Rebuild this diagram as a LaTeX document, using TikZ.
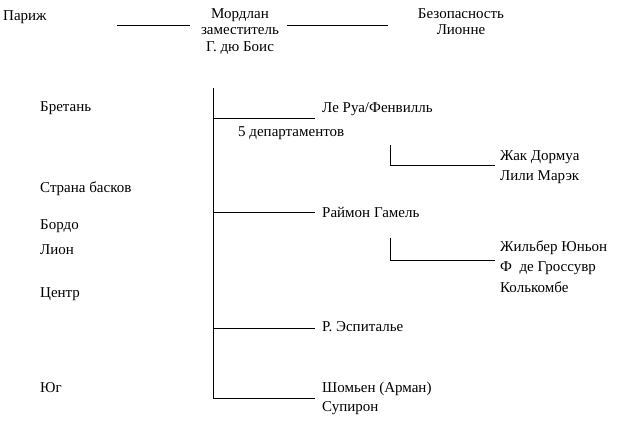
\documentclass[tikz,border=0pt]{standalone}
\usepackage{fontspec}
\setmainfont{Liberation Serif}
\begin{document}
\begin{tikzpicture}[x=1pt,y=-1pt,
  t/.style={anchor=west,inner sep=0pt,font=\fontsize{15}{17}\selectfont},
  c/.style={align=center,inner sep=0pt,font=\fontsize{15}{16.5}\selectfont},
  ln/.style={line width=0.6pt}]
\useasboundingbox (0,0) rectangle (644,429);
\node[t] (paris) at (3,17) {Париж};
\node[c,anchor=north] (mord) at (240,8) {Мордлан\\заместитель\\Г. дю Боис};
\node[c,anchor=north] (bez) at (461,8) {Безопасность\\Лионне};
\coordinate (p1) at (117,25); \coordinate (p2) at (190,25);
\coordinate (q1) at (287,25); \coordinate (q2) at (388,25);
\draw[ln] (p1)--(p2); \draw[ln] (q1)--(q2);
\node[t] (bre) at (40,108) {Бретань};
\node[t] (bas) at (40,189) {Страна басков};
\node[t] (bor) at (40,226) {Бордо};
\node[t] (lio) at (40,250) {Лион};
\node[t] (cen) at (40,294) {Центр};
\node[t] (yug) at (40,388) {Юг};
\coordinate (top) at (213,88); \coordinate (bot) at (213,398);
\draw[ln] (top)--(bot);
\node[t] (ler) at (322,109) {Ле Руа/Фенвилль};
\node[t] (dep) at (238,133) {5 департаментов};
\node[t] (jak) at (500,157) {Жак Дормуа};
\node[t] (lil) at (500,177) {Лили Марэк};
\node[t] (ray) at (322,212) {Раймон Гамель};
\node[t] (zhi) at (500,248) {Жильбер Юньон};
\node[t] (fde) at (500,268) {Ф\ \ де Гроссувр};
\node[t] (kol) at (500,287) {Колькомбе};
\node[t] (esp) at (322,327) {Р. Эспиталье};
\node[t] (sho) at (322,389) {Шомьен (Арман)};
\node[t] (sup) at (322,408) {Супирон};
\draw[ln] (213,118) -- (315,118);
\draw[ln] (390,145) -- (390,165) -- (495,165);
\draw[ln] (213,212) -- (315,212);
\draw[ln] (390,238) -- (390,260) -- (495,260);
\draw[ln] (213,328) -- (315,328);
\draw[ln] (213,398) -- (315,398);
\end{tikzpicture}
\end{document}
